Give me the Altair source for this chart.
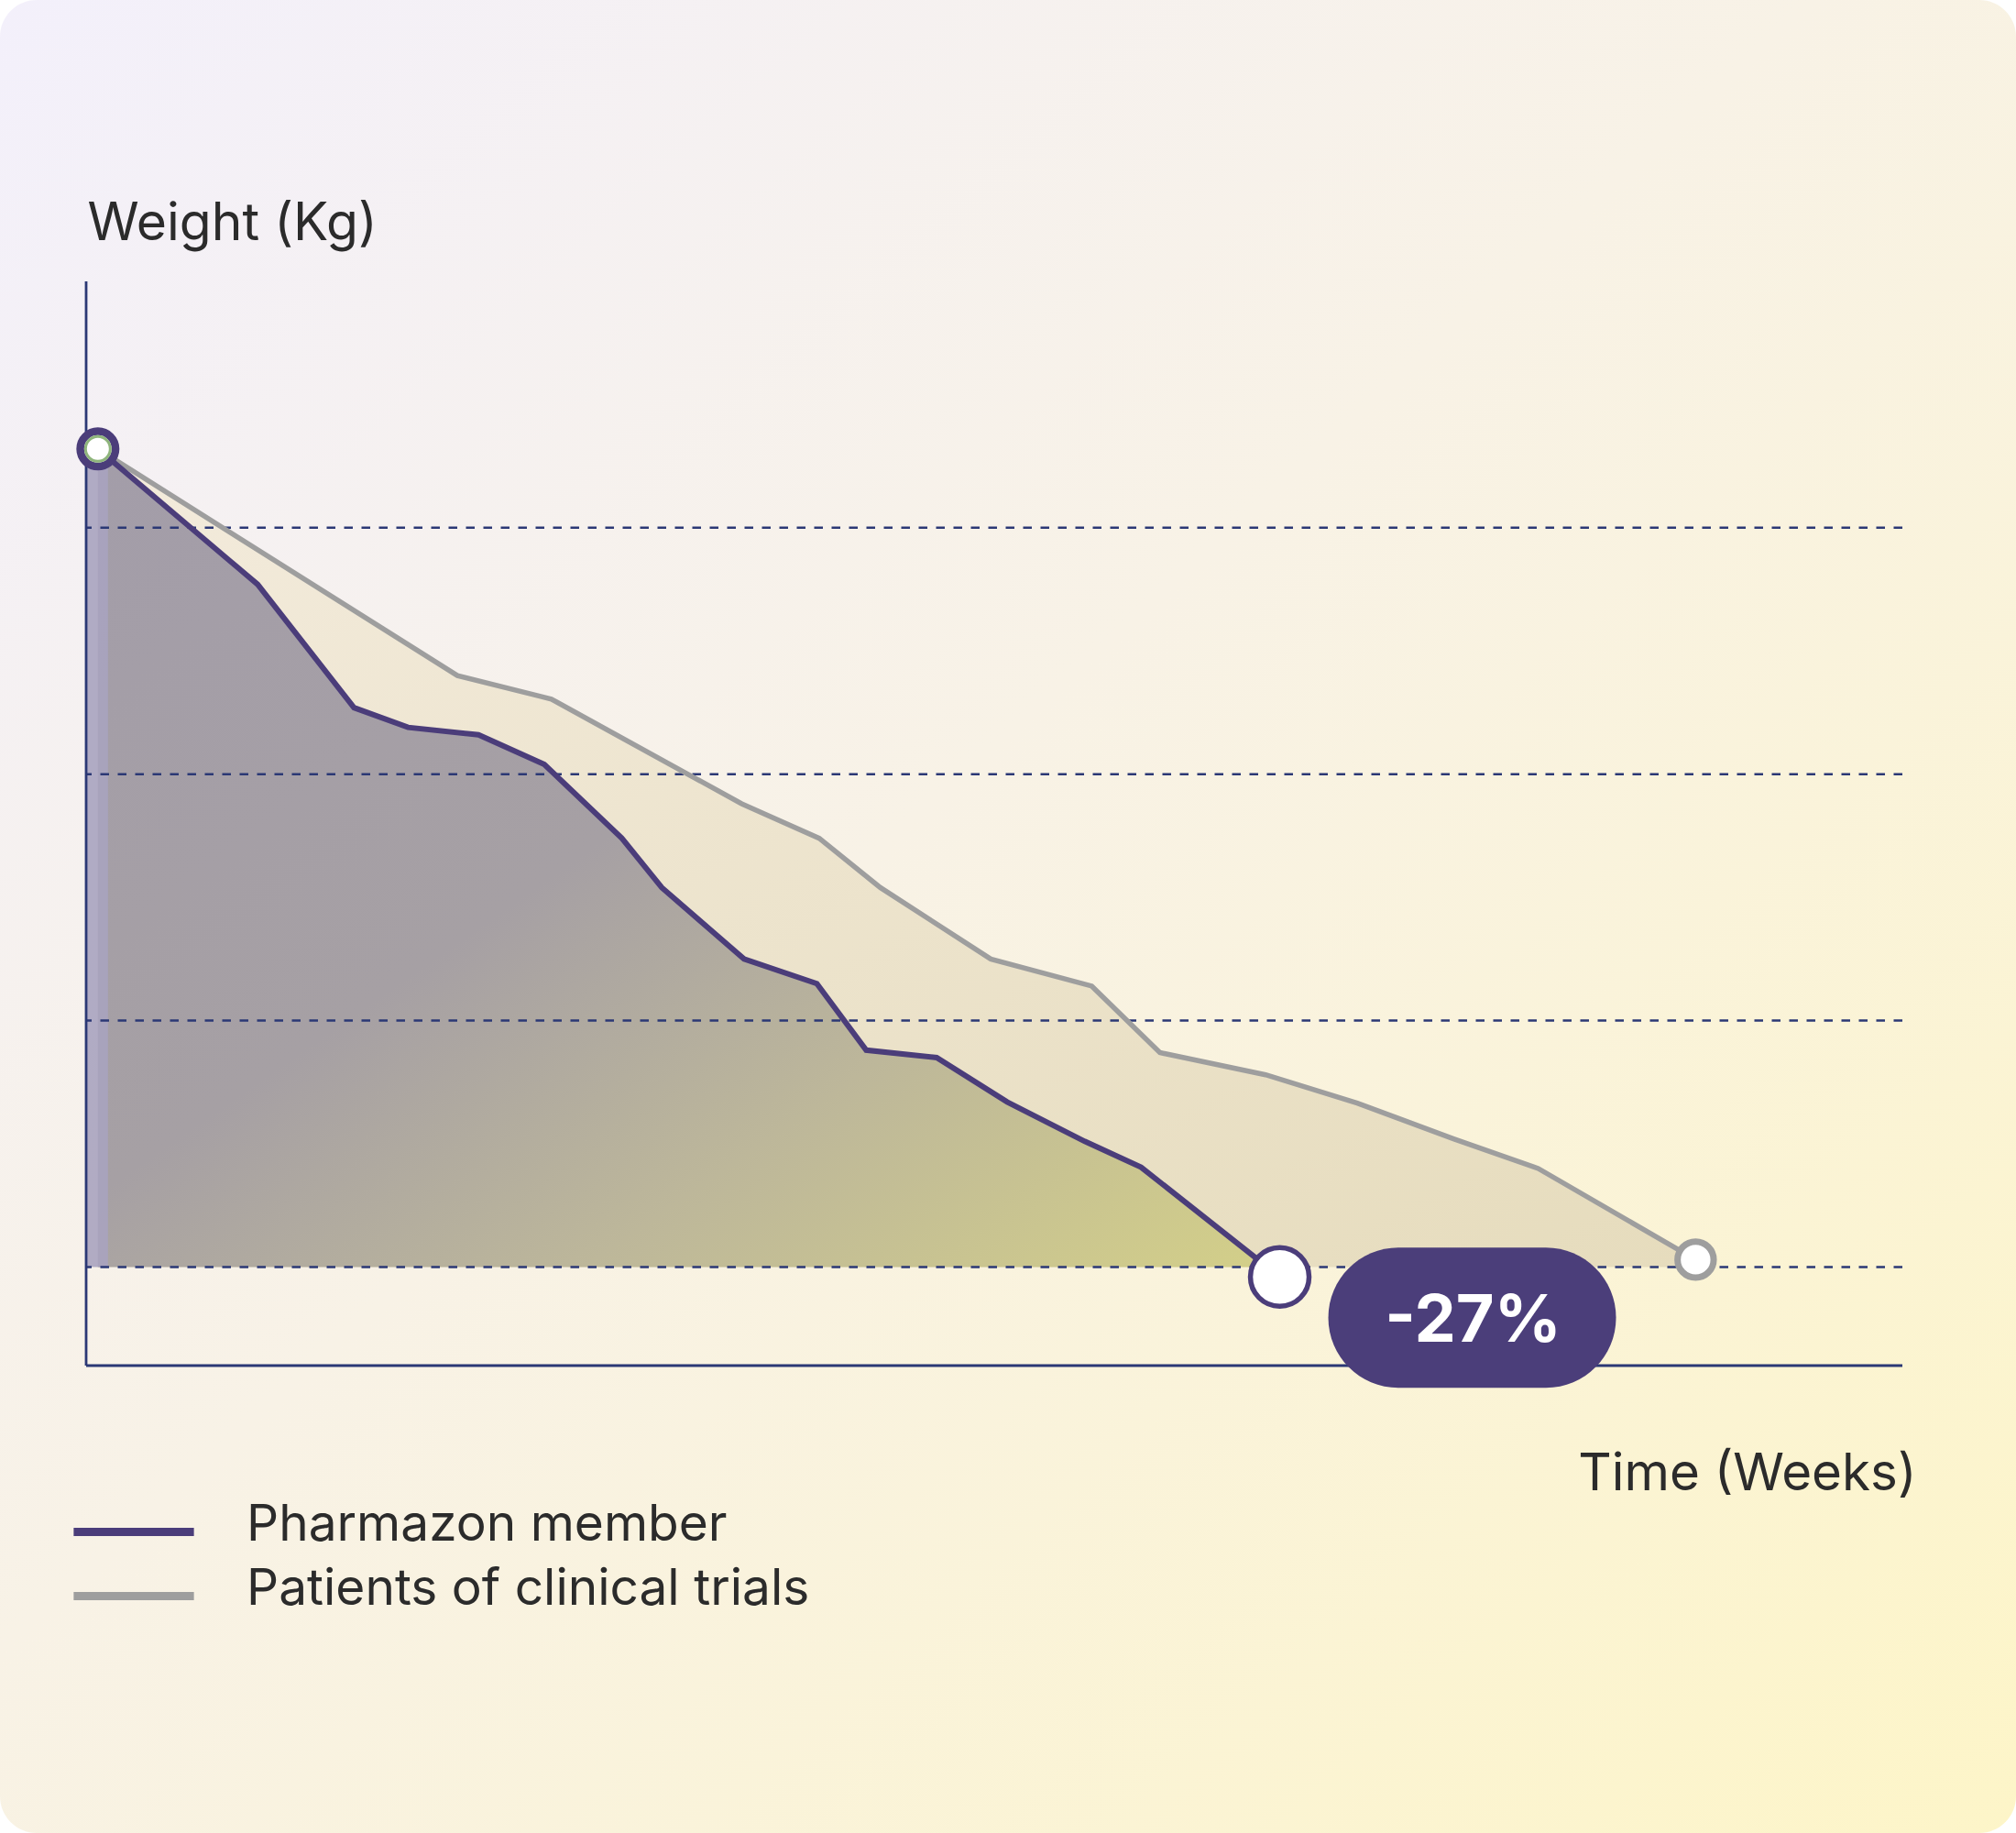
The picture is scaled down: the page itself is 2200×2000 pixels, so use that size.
import altair as alt
import pandas as pd

# Weight over time (kg) for the two groups
member_weeks = [0, 6.8, 10.9, 13.2, 16.2, 19.0, 22.3, 24.0, 27.5, 30.6, 32.7, 35.7, 38.7, 42.0, 44.4, 50.3]
member_kg = [123.2, 117.7, 112.7, 111.9, 111.6, 110.4, 107.4, 105.4, 102.5, 101.5, 98.8, 98.5, 96.7, 95.1, 94.05, 89.6]

trial_weeks = [0, 15.3, 19.3, 27.4, 30.7, 33.3, 38.0, 42.3, 45.2, 49.7, 53.6, 57.7, 61.3, 68]
trial_kg = [123.2, 114.0, 113.05, 108.8, 107.4, 105.4, 102.5, 101.4, 98.7, 97.8, 96.65, 95.2, 94.0, 90.3]

series_names = ["Pharmazon member", "Patients of clinical trials"]
series_colors = ["#4b3d7a", "#9e9e9e"]

grid_kg = [90, 100, 110, 120]
x_domain = [-0.5, 76.8]
y_domain = [86, 130]
baseline_kg = grid_kg[0]

NAVY = "#2b3875"
INK = "#2b2b2b"
PURPLE = series_colors[0]
GRAY = series_colors[1]
GREEN = "#8fb57c"
FONT = "Inter"

W, H = 1982, 1183
PAD = {"left": 94, "top": 307, "right": 124, "bottom": 510}

member = pd.DataFrame({"week": member_weeks, "kg": member_kg, "series": series_names[0]})
trial = pd.DataFrame({"week": trial_weeks, "kg": trial_kg, "series": series_names[1]})

change_pct = round((member_kg[-1] / member_kg[0] - 1) * 100)
member_end = pd.DataFrame({"week": [member_weeks[-1]], "kg": [member_kg[-1]], "label": [f"{change_pct}%"]})
start = pd.DataFrame({"week": [member_weeks[0]], "kg": [member_kg[0]]})
trial_end = pd.DataFrame({"week": [trial_weeks[-1]], "kg": [trial_kg[-1]]})
grid = pd.DataFrame({"kg": grid_kg})
one = pd.DataFrame({"k": [0]})

xs = alt.Scale(domain=x_domain, nice=False, zero=False)
ys = alt.Scale(domain=y_domain, nice=False, zero=False)

x_axis = alt.Axis(
    title="Time (Weeks)", domain=False, ticks=False, labels=False, grid=False,
    titleAngle=0, titleAlign="right", titleBaseline="alphabetic",
    titleX=1997, titleY=135, titleFont=FONT, titleFontSize=56.5,
    titleFontWeight="normal", titleColor=INK, zindex=1,
)
y_axis = alt.Axis(
    title="Weight (Kg)", domain=False, ticks=False, labels=False, grid=False,
    titleAngle=0, titleAlign="left", titleBaseline="alphabetic",
    titleX=1, titleY=-46, titleFont=FONT, titleFontSize=57,
    titleFontWeight="normal", titleColor=INK, zindex=1,
)
X = alt.X("week:Q", scale=xs, axis=x_axis)
Y = alt.Y("kg:Q", scale=ys, axis=y_axis)

# Wide, short stroke swatch that sits slightly below the label's centre line
legend = alt.Legend(
    title=None, orient="none", legendX=-18, legendY=1315,
    symbolType="M-1.75,0.2H1.75", symbolSize=5625, symbolStrokeWidth=9,
    symbolOffset=28, labelFont=FONT, labelFontSize=55, labelColor=INK,
    labelOffset=81, labelLimit=0, rowPadding=0, padding=0, zindex=1,
)
color = alt.Color("series:N", scale=alt.Scale(domain=series_names, range=series_colors), legend=legend)


def grad(stops, x1=0, y1=0, x2=1, y2=1):
    return alt.Gradient(
        gradient="linear",
        stops=[alt.GradientStop(color=c, offset=o) for o, c in stops],
        x1=x1, y1=y1, x2=x2, y2=y2,
    )


card = alt.Chart(one).mark_rect(
    cornerRadius=40,
    fill=grad([(0, "#f3f0fb"), (0.45, "#f8f2e6"), (1, "#fdf5c8")]),
).encode(
    x=alt.value(-PAD["left"]), x2=alt.value(W + PAD["right"]),
    y=alt.value(-PAD["top"]), y2=alt.value(H + PAD["bottom"]),
)

trial_area = alt.Chart(trial).mark_area(
    color=grad([(0, "#f3ebdc"), (1, "#e6dcbd")])
).encode(x=X, y=Y, y2=alt.datum(baseline_kg))

member_area = alt.Chart(member).mark_area(
    color=grad([(0, "#a39da9"), (0.45, "#a6a0a4"), (0.7, "#bdb79a"), (1, "#d4d088")])
).encode(x=X, y=Y, y2=alt.datum(baseline_kg))

edge_band = alt.Chart(one).mark_rect(color="#a8a3bf", opacity=0.9).encode(
    x=alt.datum(x_domain[0]), x2=alt.datum(0.43),
    y=alt.datum(baseline_kg), y2=alt.datum(member_kg[0]),
)

grid_rules = alt.Chart(grid).mark_rule(
    color=NAVY, strokeWidth=2.5, strokeDash=[9.5, 9.5]
).encode(y=alt.Y("kg:Q", scale=ys, axis=y_axis))

x_line = alt.Chart(one).mark_rule(color=NAVY, strokeWidth=2.8).encode(
    y=alt.datum(y_domain[0])
)
y_line = alt.Chart(one).mark_rule(color=NAVY, strokeWidth=2.8).encode(
    x=alt.datum(x_domain[0]), y=alt.datum(y_domain[0]), y2=alt.datum(y_domain[1])
)

trial_line = alt.Chart(trial).mark_line(strokeWidth=5.5).encode(x=X, y=Y, color=color)
member_line = alt.Chart(member).mark_line(strokeWidth=6).encode(x=X, y=Y, color=color)

start_ring = alt.Chart(start).mark_circle(
    size=1482, fill="white", stroke=PURPLE, strokeWidth=8.5, opacity=1
).encode(x=X, y=Y)
start_core = alt.Chart(start).mark_circle(
    size=729, fill="white", stroke=GREEN, strokeWidth=3, opacity=1
).encode(x=X, y=Y)
trial_dot = alt.Chart(trial_end).mark_circle(
    size=1552, fill="white", stroke=GRAY, strokeWidth=7, opacity=1
).encode(x=X, y=Y)
member_dot = alt.Chart(member_end).mark_circle(
    size=4096, fill="white", stroke=PURPLE, strokeWidth=5.5, opacity=1
).encode(x=X, y=Y)

badge = alt.Chart(member_end).mark_rect(
    width=314, height=153, cornerRadius=76.5, color="#4b3e7a",
    xOffset=210, yOffset=44.5,
).encode(x=X, y=Y)
badge_text = alt.Chart(member_end).mark_text(
    dx=211, dy=71, align="center", baseline="alphabetic",
    font=FONT, fontSize=72, fontWeight="bold", color="white",
).encode(x=X, y=Y, text="label:N")

chart = alt.layer(
    card, trial_area, member_area, edge_band, grid_rules, x_line, y_line,
    trial_line, member_line, start_ring, start_core, trial_dot, member_dot,
    badge, badge_text,
).properties(
    width=W, height=H, padding=PAD, autosize=alt.AutoSizeParams(type="none"),
).configure_view(strokeWidth=0).configure(background="white")

chart.save("out.html", embed_options={"renderer": "svg", "actions": False})
